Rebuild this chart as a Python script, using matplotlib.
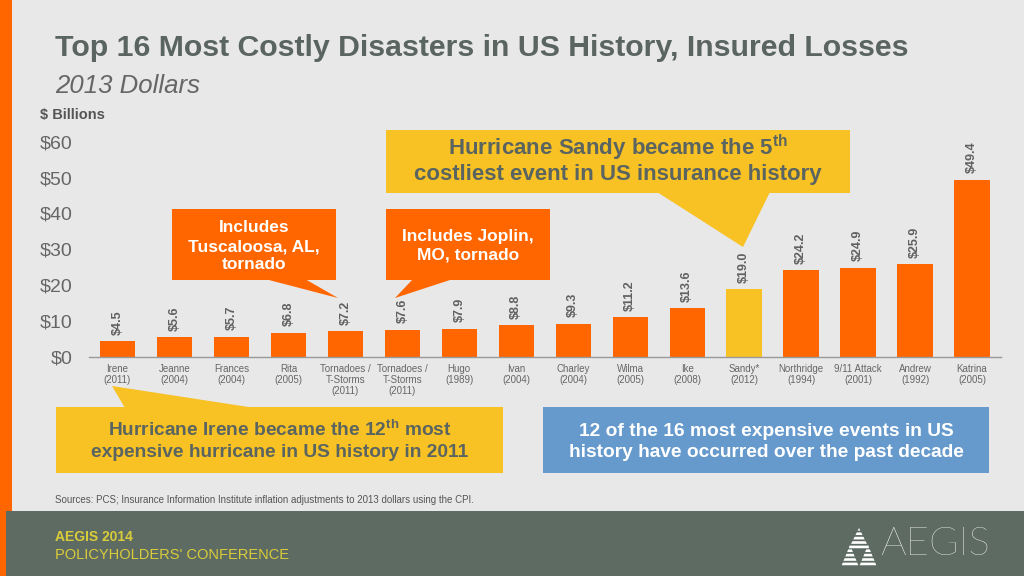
import matplotlib
matplotlib.use("Agg")
import matplotlib.pyplot as plt
from matplotlib.patches import Polygon, Rectangle

plt.rcParams['font.family'] = ['Liberation Sans', 'DejaVu Sans']
plt.rcParams['mathtext.fontset'] = 'custom'
plt.rcParams['mathtext.rm'] = 'Liberation Sans'
plt.rcParams['mathtext.bf'] = 'Liberation Sans:bold'

# ---------------- data ----------------
events = ["Irene", "Jeanne", "Frances", "Rita", "Tornadoes /\nT-Storms", "Tornadoes /\nT-Storms",
          "Hugo", "Ivan", "Charley", "Wilma", "Ike", "Sandy*", "Northridge", "9/11 Attack",
          "Andrew", "Katrina"]
years = ["2011", "2004", "2004", "2005", "2011", "2011", "1989", "2004", "2004", "2005",
         "2008", "2012", "1994", "2001", "1992", "2005"]
losses = [4.5, 5.6, 5.7, 6.8, 7.2, 7.6, 7.9, 8.8, 9.3, 11.2, 13.6, 19.0, 24.2, 24.9, 25.9, 49.4]
highlight = "Sandy*"
yticks = [0, 10, 20, 30, 40, 50, 60]

# ---------------- style ----------------
BG = "#e8e8e8"
ORANGE = "#ff6600"
YELLOW = "#f8c124"
BLUE = "#6699cc"
FOOT = "#5e6b63"
TITLE = "#5a6460"
GRAY = "#666666"

W, H = 1024, 576
fig = plt.figure(figsize=(W / 100, H / 100), dpi=100, facecolor=BG)

# background layer
bg = fig.add_axes([0, 0, 1, 1], zorder=-2)
bg.set_xlim(0, W); bg.set_ylim(H, 0); bg.axis("off")
bg.add_patch(Rectangle((0, 511), W, 65, color=FOOT, lw=0))
bg.add_patch(Rectangle((0, 0), 12, 511, color=ORANGE, lw=0))
bg.add_patch(Rectangle((0, 511), 6, 65, color=ORANGE, lw=0))

# ---------------- chart ----------------
x0, x1 = 89, 1000.5
ybot, ytop = 357, 141.6
ax = fig.add_axes([x0 / W, 1 - ybot / H, (x1 - x0) / W, (ybot - ytop) / H])
ax.set_facecolor("none")
n = len(losses)
xs = list(range(n))
colors = [YELLOW if e == highlight else ORANGE for e in events]
ax.bar(xs, losses, width=0.62, color=colors, zorder=2)
ax.set_xlim(-0.5, n - 0.5)
ax.set_ylim(0, 60)
ax.set_yticks(yticks)
ax.set_yticklabels([f"${v}" for v in yticks], fontsize=14, color=GRAY)
ax.set_xticks(xs)
ax.set_xticklabels([f"{e}\n({y})" for e, y in zip(events, years)], fontsize=7, color=GRAY,
                   linespacing=1.15, va="top")
ax.tick_params(axis="both", length=0)
ax.tick_params(axis="y", pad=12)
ax.tick_params(axis="x", pad=5)
for s in ["top", "right", "left"]:
    ax.spines[s].set_visible(False)
ax.spines["bottom"].set_color("#9a9a9a")
ax.spines["bottom"].set_linewidth(1.0)
for x, v in zip(xs, losses):
    ax.annotate(f"${v:.1f}", (x, v), xytext=(0, 4.5), textcoords="offset points",
                rotation=90, ha="center", va="bottom", fontsize=9, fontweight="bold",
                color="#606060")

# ---------------- overlay (px coords) ----------------
ov = fig.add_axes([0, 0, 1, 1], zorder=5)
ov.set_xlim(0, W); ov.set_ylim(H, 0); ov.axis("off")
ov.patch.set_alpha(0)

ov.text(55, 48, "Top 16 Most Costly Disasters in US History, Insured Losses", fontsize=21.8,
        fontweight="bold", color=TITLE, va="center", ha="left")
ov.text(55, 86, "2013 Dollars", fontsize=18.5, style="italic", color=GRAY, va="center", ha="left")
ov.text(40, 115, "$ Billions", fontsize=10.5, fontweight="bold", color="#555555", va="center", ha="left")


def box(xa, ya, xb, yb, color, pointer=None):
    ov.add_patch(Rectangle((xa, ya), xb - xa, yb - ya, color=color, lw=0))
    if pointer:
        ov.add_patch(Polygon(pointer, closed=True, color=color, lw=0))


def lines(cx, baselines, texts, size, color):
    for yy, t in zip(baselines, texts):
        ov.text(cx, yy, t, fontsize=size, fontweight="bold", color=color,
                ha="center", va="baseline")


# Sandy callout
box(386, 130, 850, 193, YELLOW, [(657, 192), (770, 192), (743, 247)])
lines(618, [155, 180], [r"Hurricane Sandy became the 5$^{\mathbf{th}}$",
                        "costliest event in US insurance history"], 16, TITLE)

# Tuscaloosa callout
box(172, 209, 336, 280, ORANGE, [(265, 279), (305, 279), (338, 298)])
lines(254, [232, 251, 269], ["Includes", "Tuscaloosa, AL,", "tornado"], 12.5, "white")

# Joplin callout
box(386, 209, 550, 280, ORANGE, [(413, 279), (453, 279), (395, 298)])
lines(468, [241, 260], ["Includes Joplin,", "MO, tornado"], 12.5, "white")

# Irene callout
box(56, 407, 503, 473, YELLOW, [(112, 386), (125, 408), (255, 408)])
lines(280, [436, 457], [r"Hurricane Irene became the 12$^{\mathbf{th}}$ most",
                        "expensive hurricane in US history in 2011"], 13.8, TITLE)

# Blue box
box(543, 407, 989, 473, BLUE)
lines(766, [436, 457], ["12 of the 16 most expensive events in US",
                        "history have occurred over the past decade"], 13.8, "white")

# sources
ov.text(55, 500, "Sources: PCS; Insurance Information Institute inflation adjustments to 2013 dollars using the CPI.",
        fontsize=7, color="#555555", ha="left", va="center")

# footer
ov.text(55, 537, "AEGIS 2014", fontsize=10, fontweight="bold", color="#d9cc3a", ha="left", va="center")
ov.text(55, 555, "POLICYHOLDERS' CONFERENCE", fontsize=10.5, color="#d9cc3a", ha="left", va="center")
ov.text(880, 544, "AEGIS", fontsize=29, color="white", ha="left", va="center",
        family=["Lato", "Liberation Sans"], fontweight="light")


def striped_triangle(cx, yt, h, w, nstripes=5):
    for k in range(nstripes):
        ya = yt + k * h / nstripes
        yb = ya + 0.6 * h / nstripes
        wa = w * (k / nstripes)
        wb = w * ((k + 0.6) / nstripes)
        ov.add_patch(Polygon([(cx - wa, ya), (cx + wa, ya), (cx + wb, yb), (cx - wb, yb)],
                             closed=True, color="white", lw=0))


striped_triangle(859, 528, 22, 11)
striped_triangle(850, 545, 22, 9)
striped_triangle(868, 545, 22, 9)

fig.savefig("out.png", dpi=100, facecolor=BG)
